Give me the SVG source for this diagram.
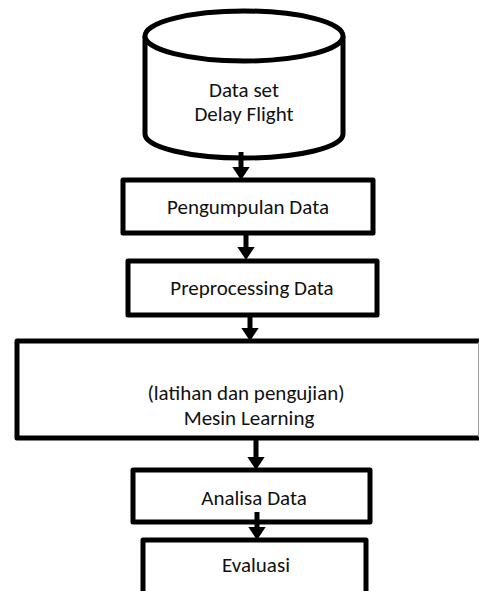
<svg xmlns="http://www.w3.org/2000/svg" width="479" height="591" viewBox="0 0 479 591">
  <style>
    .shape { fill: #ffffff; stroke: #000000; stroke-width: 5; stroke-linejoin: round; }
    .label { font-family: Carlito, Lato, "Liberation Sans", sans-serif; font-size: 21px; fill: #111111; text-anchor: middle; }
    .flow { fill: none; stroke: #000000; stroke-width: 5; marker-end: url(#head); }
  </style>
  <defs>
    <marker id="head" markerUnits="userSpaceOnUse" markerWidth="14" markerHeight="18" viewBox="0 0 14 18" refX="0.5" refY="9" orient="auto">
      <path d="M0,0 L13.5,9 L0,18 Z" fill="#000000"/>
    </marker>
  </defs>
  <rect width="479" height="591" fill="#ffffff"/>

  <!-- database cylinder -->
  <g id="dataset">
    <path class="shape" d="M145,36 L145,134 A99,24 0 0 0 343,134 L343,36"/>
    <ellipse class="shape" cx="244" cy="36" rx="99" ry="25"/>
    <text class="label" x="244" y="97">Data set</text>
    <text class="label" x="244" y="121">Delay Flight</text>
  </g>

  <g id="pengumpulan">
    <rect class="shape" x="123" y="180" width="250" height="53"/>
    <text class="label" x="248" y="214">Pengumpulan Data</text>
  </g>

  <g id="preprocessing">
    <rect class="shape" x="128" y="261" width="249" height="54"/>
    <text class="label" x="252" y="295">Preprocessing Data</text>
  </g>

  <g id="mesin">
    <rect class="shape" x="17" y="341" width="467" height="97"/>
    <line x1="478.5" y1="342" x2="478.5" y2="437" stroke="#999999" stroke-width="1"/>
    <text class="label" x="246" y="400">(latihan dan pengujian)</text>
    <text class="label" x="249" y="425">Mesin Learning</text>
  </g>

  <g id="analisa">
    <rect class="shape" x="133" y="470" width="237" height="52"/>
    <text class="label" x="254" y="505">Analisa Data</text>
  </g>

  <g id="evaluasi">
    <rect class="shape" x="143" y="540" width="223" height="60"/>
    <text class="label" x="256" y="572">Evaluasi</text>
  </g>

  <!-- connectors -->
  <g id="connectors">
    <path class="flow" d="M241,152 L241,167"/>
    <path class="flow" d="M246,234 L246,247"/>
    <path class="flow" d="M250,316 L250,328"/>
    <path class="flow" d="M256,439 L256,457"/>
    <path class="flow" d="M257,512 L257,527"/>
  </g>
</svg>
